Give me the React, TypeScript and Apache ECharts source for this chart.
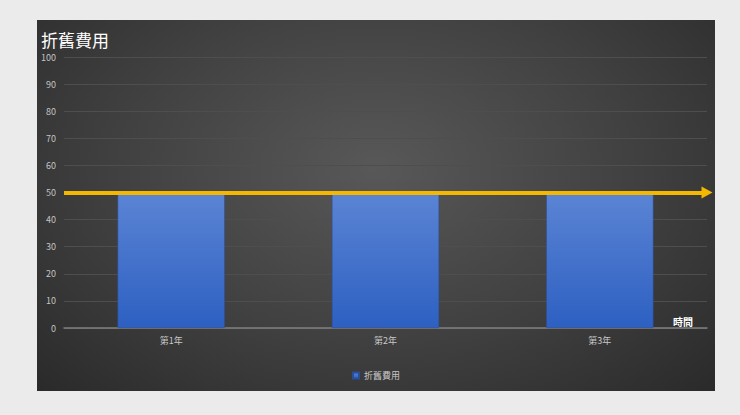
import { useEffect, useRef } from "react";
import * as echarts from "echarts";

const categories = ["第1年", "第2年", "第3年"];
const depreciation = [50, 50, 50];
const markValue = 50;
const yTicks = { min: 0, max: 100, interval: 10 };

export default function App() {
  const chartRef = useRef<HTMLDivElement | null>(null);

  useEffect(() => {
    if (!chartRef.current) return;
    const chart = echarts.init(chartRef.current, undefined, { renderer: "svg" });
    const font = "'Noto Sans CJK TC', 'Noto Sans', sans-serif";
    chart.setOption({
      animation: false,
      textStyle: { fontFamily: font },
      title: {
        text: "折舊費用",
        left: -1,
        top: 6,
        textStyle: { color: "#ffffff", fontSize: 17, fontWeight: "normal" }
      },
      grid: { left: 27, right: 8, top: 37, bottom: 63 },
      legend: {
        bottom: 6,
        left: "center",
        icon: "rect",
        itemWidth: 6,
        itemHeight: 6,
        itemGap: 4,
        textStyle: { color: "#c8c8c8", fontSize: 9 },
        data: ["折舊費用"]
      },
      xAxis: {
        type: "category",
        data: categories,
        axisLine: { lineStyle: { color: "#808080", width: 1.5 } },
        axisTick: { show: false },
        axisLabel: { color: "#c8c8c8", fontSize: 9, margin: 8 }
      },
      yAxis: {
        type: "value",
        min: yTicks.min,
        max: yTicks.max,
        interval: yTicks.interval,
        axisLine: { show: false },
        axisTick: { show: false },
        axisLabel: { color: "#c4c4c4", fontSize: 9, margin: 8 },
        splitLine: { lineStyle: { color: "#4e4e4e", width: 1 } }
      },
      graphic: [
        {
          type: "text",
          left: 636,
          top: 296,
          style: { text: "時間", fill: "#ffffff", fontSize: 10, fontWeight: "bold", fontFamily: font }
        }
      ],
      series: [
        {
          name: "折舊費用",
          type: "bar",
          data: depreciation,
          barWidth: "50%",
          itemStyle: {
            color: new echarts.graphic.LinearGradient(0, 0, 0, 1, [
              { offset: 0, color: "#5b84d4" },
              { offset: 1, color: "#2d60c2" }
            ]),
            borderColor: "#2a4f99",
            borderWidth: 0.5
          },
          markLine: {
            silent: true,
            symbol: ["none", "triangle"],
            symbolSize: [12, 11],
            label: { show: false },
            lineStyle: { color: "#f5b800", width: 4, type: "solid" },
            data: [{ yAxis: markValue }]
          }
        }
      ]
    });
    return () => {
      chart.dispose();
    };
  }, []);

  return (
    <div style={{ position: "fixed", left: 0, top: 0, width: 740, height: 415, background: "#ebebeb" }}>
      <div
        style={{
          position: "absolute",
          left: 37,
          top: 20,
          width: 678,
          height: 371,
          background: "radial-gradient(ellipse at 50% 40%, #585858 0%, #404040 55%, #2a2a2a 100%)"
        }}
      >
        <div ref={chartRef} style={{ width: 678, height: 371 }} />
      </div>
    </div>
  );
}
